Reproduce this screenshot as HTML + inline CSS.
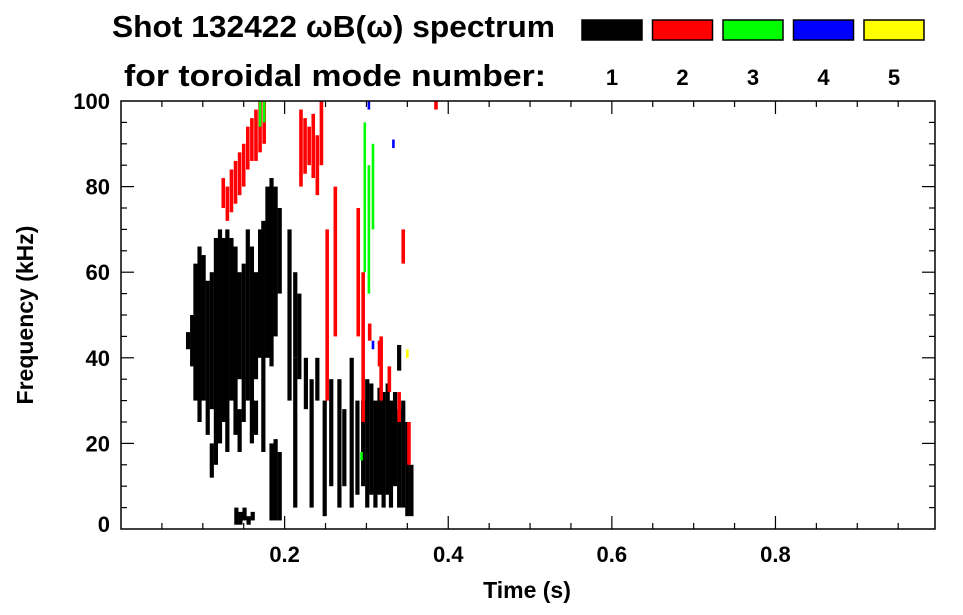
<!DOCTYPE html>
<html><head><meta charset="utf-8"><style>
html,body{margin:0;padding:0;background:#fff;}
svg{display:block;font-family:"Liberation Sans",Arial,sans-serif;font-weight:bold;}
</style></head><body>
<svg id="chart" width="963" height="615" viewBox="0 0 963 615" xmlns="http://www.w3.org/2000/svg">
<text x="112" y="37" font-size="31" textLength="443" lengthAdjust="spacingAndGlyphs">Shot 132422 ωB(ω) spectrum</text>
<text x="124" y="86" font-size="31" textLength="422" lengthAdjust="spacingAndGlyphs">for toroidal mode number:</text>
<g id="legend"></g>
<g id="marks"></g>
<g id="axes"></g>
<text x="527" y="598" font-size="23" text-anchor="middle">Time (s)</text>
<text transform="translate(33,315) rotate(-90)" font-size="23" text-anchor="middle">Frequency (kHz)</text>
</svg>
<script>
const modeLabels = ["1","2","3","4","5"];
const modeColors = ["#000000","#ff0000","#00ff00","#0000ff","#ffff00"];
const xTickValues = [0.2,0.4,0.6,0.8];
const xTickLabels = ["0.2","0.4","0.6","0.8"];
const yTickValues = [0,20,40,60,80,100];
const yTickLabels = ["0","20","40","60","80","100"];
// streaks: time (s), low freq (kHz), high freq (kHz), mode index (1-5)
const streakTime = [
0.082,0.087,0.091,0.096,0.101,0.106,0.111,0.111,0.116,0.121,0.126,0.130,0.135,0.140,0.145,0.145,0.150,0.155,0.160,0.165,0.165,0.170,0.174,0.179,0.184,0.184,0.189,0.189,0.194,0.194,
0.141,0.146,0.151,0.156,0.161,
0.206,0.213,0.213,0.218,0.226,0.233,0.240,0.249,0.257,0.267,0.273,0.282,0.289,0.296,0.301,0.306,0.311,0.316,0.321,0.326,0.330,0.335,0.340,0.345,0.350,0.355,0.340,
0.125,0.130,0.135,0.140,0.145,0.150,0.155,0.160,0.165,0.170,0.175,
0.220,0.225,0.230,0.235,0.240,0.245,
0.252,0.262,0.290,0.296,0.318,0.304,0.316,0.328,0.340,0.352,0.345,0.385,
0.170,0.175,0.298,0.303,0.308,0.294,
0.303,0.308,0.333,
0.350
];
const streakLow = [
42,38,30,25,30,22,28,12,15,20,25,18,30,22,35,18,25,30,20,35,22,40,18,40,38,2,45,2,55,2,
1,1,2,1,2,
30,40,5,35,28,5,30,3,10,5,10,5,8,10,5,8,5,8,5,8,5,10,5,5,3,3,37,
75,72,74,76,78,80,84,86,86,88,90,
80,83,85,82,78,85,
30,45,45,25,30,44,38,32,25,15,62,98,
94,95,60,55,70,16,
98,42,89,
40
];
const streakHigh = [
46,50,62,66,64,58,60,20,68,70,68,70,68,66,60,28,62,70,66,60,30,70,72,80,82,20,80,21,75,18,
5,4,5,3,4,
70,60,40,55,40,35,40,30,35,35,28,40,30,30,35,34,30,33,32,34,30,32,28,30,25,15,43,
82,80,84,86,88,90,94,96,98,100,100,
98,96,94,97,92,100,
70,80,75,60,45,48,44,38,32,25,70,100,
100,100,95,85,90,18,
100,44,91,
42
];
const streakMode = [
1,1,1,1,1,1,1,1,1,1,1,1,1,1,1,1,1,1,1,1,1,1,1,1,1,1,1,1,1,1,
1,1,1,1,1,
1,1,1,1,1,1,1,1,1,1,1,1,1,1,1,1,1,1,1,1,1,1,1,1,1,1,1,
2,2,2,2,2,2,2,2,2,2,2,
2,2,2,2,2,2,
2,2,2,2,2,2,2,2,2,2,2,2,
3,3,3,3,3,3,
4,4,4,
5
];

const NS="http://www.w3.org/2000/svg";
const L=121,R=935,T=101,B=529;
const xS=t=>L+t*(R-L)/0.995;
const yS=f=>B-f*(B-T)/100;
function mk(tag,attrs,parent){const e=document.createElementNS(NS,tag);for(const k in attrs)e.setAttribute(k,attrs[k]);parent.appendChild(e);return e;}

const marks=document.getElementById('marks');
for(let i=0;i<streakTime.length;i++){
  const x=xS(streakTime[i]);
  const y1=yS(streakHigh[i]),y2=yS(streakLow[i]);
  const w=streakMode[i]===1?4.2:(streakMode[i]===2?3.6:2.6);
  const r=mk('rect',{x:x-w/2,y:y1,width:w,height:Math.max(1,y2-y1),fill:modeColors[streakMode[i]-1]},marks);
  
  
}

const legend=document.getElementById('legend');
for(let i=0;i<modeLabels.length;i++){
  const x0=582+i*70.5;
  const r=mk('rect',{x:x0,y:20,width:60,height:20,fill:modeColors[i],stroke:'#000','stroke-width':1.5},legend);
  
  
  const t=mk('text',{x:x0+30,y:85,'font-size':22,'text-anchor':'middle'},legend);
  t.textContent=modeLabels[i];
  
  
}

const axes=document.getElementById('axes');
const frame=mk('rect',{x:L,y:T,width:R-L,height:B-T,fill:'none',stroke:'#000','stroke-width':1.5},axes);


for(let k=1;k<20;k++){
  const v=k*0.05,x=xS(v);
  const major=k%4===0, len=major?13:6;
  mk('line',{x1:x,y1:B,x2:x,y2:B-len,stroke:'#000','stroke-width':1.2},axes);
  mk('line',{x1:x,y1:T,x2:x,y2:T+len,stroke:'#000','stroke-width':1.2},axes);
}
for(let k=1;k<20;k++){
  const y=yS(k*5);const major=k%4===0,len=major?13:6;
  mk('line',{x1:L,y1:y,x2:L+len,y2:y,stroke:'#000','stroke-width':1.2},axes);
  mk('line',{x1:R,y1:y,x2:R-len,y2:y,stroke:'#000','stroke-width':1.2},axes);
}
for(let i=0;i<xTickValues.length;i++){
  const t=mk('text',{x:xS(xTickValues[i]),y:562,'font-size':22,'text-anchor':'middle'},axes);
  t.textContent=xTickLabels[i];
  
  
}
for(let i=0;i<yTickValues.length;i++){
  const t=mk('text',{x:110,y:Math.min(yS(yTickValues[i])+8,532),'font-size':22,'text-anchor':'end'},axes);
  t.textContent=yTickLabels[i];
  
  
}
</script>
</body></html>
